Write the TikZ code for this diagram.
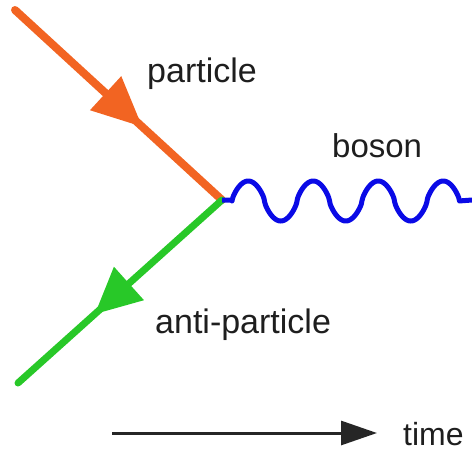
\documentclass[tikz,border=0pt]{standalone}
\usepackage{fontspec}
\setmainfont{Liberation Sans}
\usetikzlibrary{arrows.meta,decorations.markings}
\definecolor{porange}{RGB}{242,100,34}
\definecolor{pgreen}{RGB}{40,200,40}
\definecolor{pblue}{RGB}{10,10,230}
\definecolor{ptext}{RGB}{30,30,30}
\begin{document}
\begin{tikzpicture}[x=1pt,y=-1pt,
  lbl/.style={anchor=base west,inner sep=0pt,text=ptext,font=\fontsize{34}{40}\selectfont},
  fermion/.style={line width=8pt,line cap=round}]
\useasboundingbox (0,0) rectangle (472,451);
\coordinate (v) at (222,200);
\coordinate (pin) at (15,10);
\coordinate (aout) at (18,383);
\coordinate (wend) at (472,200);
\coordinate (t0) at (112,433);
\coordinate (t1) at (377,433);
\draw[fermion,draw=porange,
  postaction={decorate,decoration={markings,mark=at position 173pt with {\arrow[porange]{Triangle[length=50pt,width=44pt]}}}}]
  (pin) -- (v);
\draw[fermion,draw=pgreen,line width=7pt,
  postaction={decorate,decoration={markings,mark=at position 171pt with {\arrow[pgreen]{Triangle[length=46pt,width=43pt]}}}}]
  (v) -- (aout);
\draw[pblue,line width=5pt,line join=round] (v) -- (232,200)
  -- plot[domain=0:227.5,samples=300] ({232+\x},{201-20*sign(sin(\x/65*360))*abs(sin(\x/65*360))^0.7})
  -- (wend);
\draw[line width=3pt,black!85,-{Triangle[length=36pt,width=24pt]}] (t0) -- (t1);
\node[lbl] (p) at (147,82) {particle};
\node[lbl,font=\fontsize{33}{40}\selectfont] (b) at (332,157) {boson};
\node[lbl] (ap) at (155,333) {anti-particle};
\node[lbl,font=\fontsize{32}{40}\selectfont] (t) at (403,445) {time};
\end{tikzpicture}
\end{document}
